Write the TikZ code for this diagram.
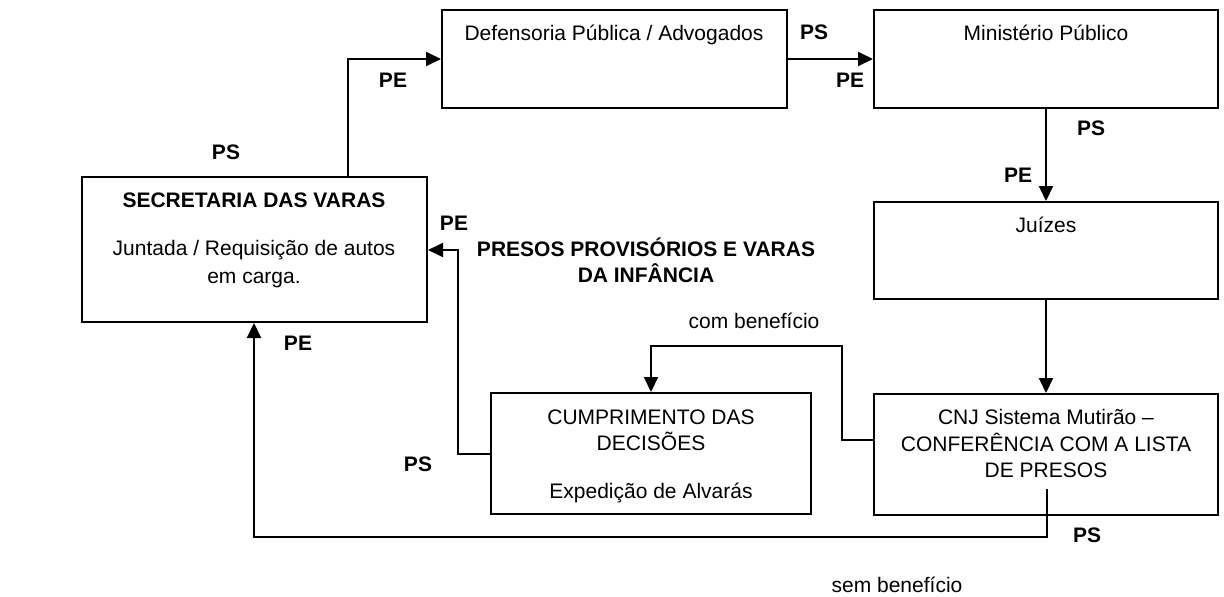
\documentclass[tikz,border=0pt]{standalone}
\usepackage{fontspec}
\setmainfont{Liberation Sans}
\usetikzlibrary{arrows.meta}
\tikzset{
  txt/.style={anchor=base, inner sep=0pt, font=\fontsize{21}{26}\selectfont},
  btxt/.style={anchor=base, inner sep=0pt, font=\fontsize{21}{26}\selectfont\bfseries},
  arr/.style={line width=2pt, -{Triangle[length=15pt,width=14pt]}},
  boxx/.style={draw, line width=2pt, inner sep=0pt},
}
\begin{document}
\begin{tikzpicture}[x=1pt,y=-1pt]
\useasboundingbox (0,0) rectangle (1224,597);
% boxes
\node[boxx, minimum width=345pt, minimum height=98pt] (def) at (614.5,59) {};
\node[boxx, minimum width=344pt, minimum height=98pt] (min) at (1046,59) {};
\node[boxx, minimum width=344pt, minimum height=97pt] (juz) at (1046,250.5) {};
\node[boxx, minimum width=345pt, minimum height=145pt] (sec) at (254.5,249.5) {};
\node[boxx, minimum width=320pt, minimum height=121pt] (cum) at (651,453.5) {};
\node[boxx, minimum width=344pt, minimum height=121pt] (cnj) at (1046,454.5) {};
% box texts
\node[txt] (deft) at (614,40.5) {Defensoria Pública / Advogados};
\node[txt] (mint) at (1046,40.5) {Ministério Público};
\node[txt] (juzt) at (1046,232.5) {Juízes};
\node[btxt] (sect1) at (254,207.5) {SECRETARIA DAS VARAS};
\node[txt] (sect2) at (254,255.5) {Juntada / Requisição de autos};
\node[txt] (sect3) at (254,283.5) {em carga.};
\node[txt] (cumt1) at (651,424.5) {CUMPRIMENTO DAS};
\node[txt] (cumt2) at (651,450.5) {DECISÕES};
\node[txt] (cumt3) at (651,498.5) {Expedição de Alvarás};
\node[txt] (cnjt1) at (1046,424.5) {CNJ Sistema Mutirão –};
\node[txt] (cnjt2) at (1046,451.5) {CONFERÊNCIA COM A LISTA};
\node[txt] (cnjt3) at (1046,477.5) {DE PRESOS};
% free labels
\node[btxt] (pres1) at (646,256.5) {PRESOS PROVISÓRIOS E VARAS};
\node[btxt] (pres2) at (646,282.5) {DA INFÂNCIA};
\node[txt] (comb) at (754,328.5) {com benefício};
\node[txt] (semb) at (897,592) {sem benefício};
\node[btxt] (l1) at (393,87.5) {PE};
\node[btxt] (l2) at (814,39.5) {PS};
\node[btxt] (l3) at (850,87.5) {PE};
\node[btxt] (l4) at (1091,135.5) {PS};
\node[btxt] (l5) at (1018,182.5) {PE};
\node[btxt] (l6) at (226,159.5) {PS};
\node[btxt] (l7) at (454,230.5) {PE};
\node[btxt] (l8) at (298,350.5) {PE};
\node[btxt] (l9) at (418,471.5) {PS};
\node[btxt] (l10) at (1087,542.5) {PS};
% coordinates
\coordinate (c1) at (348,59);
\coordinate (c2a) at (842,440);
\coordinate (c2) at (842,346);
\coordinate (c3) at (458,454);
\coordinate (c3b) at (458,250);
\coordinate (c4) at (1047,489);
\coordinate (c5) at (1047,537);
\coordinate (c6) at (254,537);
% connectors
\draw[arr] (c1 |- sec.north) -- (c1) -- (def.west);
\draw[arr] (def.east) -- (min.west);
\draw[arr] (min.south) -- (juz.north);
\draw[arr] (juz.south) -- (cnj.north);
\draw[arr] (c2a -| cnj.west) -- (c2a) -- (c2) -- (c2 -| cum.north) -- (cum.north);
\draw[arr] (c3 -| cum.west) -- (c3) -- (c3b) -- (c3b -| sec.east);
\draw[arr] (c4) -- (c5) -- (c6) -- (c6 |- sec.south);
\end{tikzpicture}
\end{document}
